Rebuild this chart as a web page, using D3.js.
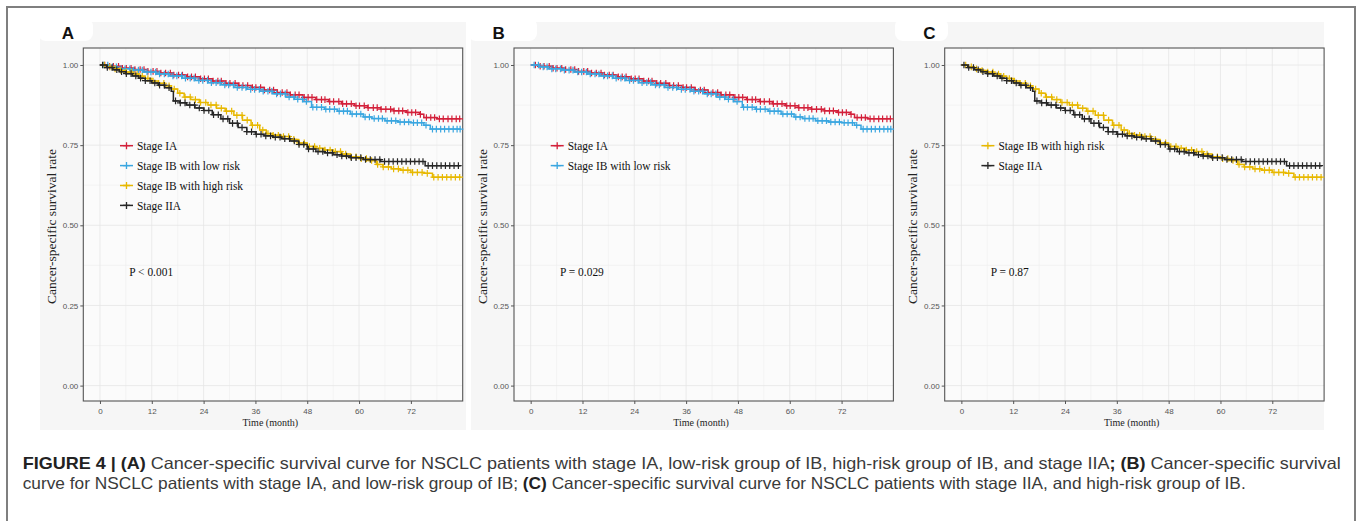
<!DOCTYPE html>
<html><head><meta charset="utf-8">
<script src="https://cdn.jsdelivr.net/npm/d3@7"></script>
<style>body{margin:0;background:#fff}svg{display:block}</style>
</head><body>
<svg id="c" width="1357" height="521"></svg>
<script>
// ---------- data ----------
const xTicks = [0, 12, 24, 36, 48, 60, 72];
const xMinor = [6, 18, 30, 42, 54, 66, 78];
const yTicks = [0, 0.25, 0.5, 0.75, 1];
const yMinor = [0.125, 0.375, 0.625, 0.875];
const yTickLabels = ["0.00", "0.25", "0.50", "0.75", "1.00"];

const seriesNames = ["Stage IA", "Stage IB with low risk", "Stage IB with high risk", "Stage IIA"];
const seriesColors = ["#D3203A", "#3AA6E0", "#E7B800", "#262626"];

const timeIA = [0,2,5,8,11,14,17,20,23,26,29,32,35,38,41,44,47,50,53,56,59,62,65,68,71,74,75,78];
const survIA = [1,0.996,0.990,0.986,0.980,0.975,0.969,0.963,0.957,0.950,0.943,0.936,0.930,0.922,0.914,0.907,0.899,0.892,0.886,0.879,0.873,0.867,0.862,0.857,0.852,0.846,0.836,0.832];
const censorIA = [1.1,2.2,3.1,4.3,5.2,6.1,7.2,8.1,9.3,10.2,11.1,12.3,13.2,14.1,15.2,16.3,17.1,18.2,19.1,20.3,21.2,22.1,23.3,24.2,25.1,26.2,27.3,28.1,29.2,30.1,31.3,32.2,33.1,34.2,35.3,36.1,37.2,38.1,39.3,40.2,41.1,42.2,43.3,44.1,45.2,46.1,47.3,48.2,49.1,50.2,51.3,52.1,53.2,54.1,55.3,56.2,57.1,58.2,59.3,60.1,61.2,62.1,63.3,64.2,65.1,66.2,67.3,68.1,69.2,70.1,71.3,72.2,73.1,74.2,75.6,76.6,77.5,78.6,79.5,80.6,81.5,82.5,83.3];

const timeIBL = [0,2,4,7,10,13,16,19,22,25,28,31,34,37,40,43,45,47,49,52,55,58,61,63,66,69,72,75,76.5];
const survIBL = [1,0.994,0.988,0.984,0.978,0.972,0.966,0.959,0.952,0.945,0.938,0.930,0.924,0.918,0.910,0.900,0.893,0.886,0.868,0.862,0.856,0.847,0.838,0.833,0.826,0.822,0.820,0.812,0.800];
const censorIBL = [0.8,1.8,2.9,3.8,4.9,5.8,6.9,7.8,8.9,9.8,10.9,11.8,12.9,13.8,14.9,15.8,16.9,17.8,18.9,19.8,20.9,21.8,22.9,23.8,24.9,25.8,26.9,27.8,28.9,29.8,30.9,31.8,32.9,33.8,34.9,35.8,36.9,37.8,38.9,39.8,40.9,41.8,42.9,43.8,44.9,45.8,46.9,47.8,49.3,50.2,51.3,52.3,53.2,54.3,55.4,56.4,57.3,58.4,59.4,60.4,61.4,62.4,63.5,64.5,65.4,66.5,67.5,68.5,69.5,70.5,71.5,72.6,73.5,74.5,75.5,77.0,77.9,78.9,79.8,80.8,81.8,82.7,83.4];

const timeIBH = [0,1.5,3,4.5,6,7.5,9,10.5,12,13.5,15,16.5,18,19.5,21,23,25,27,29,31,33,35,37,38.5,40,42,44,46,48,50,52,54,56,58,60,62,64,65.5,67.5,69.5,72,75,77];
const survIBH = [1,0.994,0.988,0.983,0.978,0.972,0.965,0.958,0.950,0.943,0.935,0.925,0.912,0.900,0.892,0.883,0.875,0.865,0.856,0.843,0.828,0.812,0.797,0.786,0.781,0.777,0.768,0.757,0.746,0.740,0.735,0.730,0.722,0.714,0.708,0.702,0.690,0.682,0.676,0.672,0.665,0.662,0.650];
const censorIBH = [1.0,2.3,3.5,4.8,6.1,7.3,8.6,9.8,11.1,12.3,13.6,14.8,16.0,17.2,18.5,19.7,20.9,22.1,23.3,24.5,25.7,26.9,28.1,29.3,30.5,31.7,32.9,34.1,35.3,36.5,37.7,38.9,40.1,41.3,42.5,43.7,44.9,46.1,47.3,48.5,49.7,50.9,52.1,53.3,54.5,55.7,56.9,58.1,59.3,60.5,61.7,62.9,64.3,65.6,66.8,68.0,69.1,70.2,71.3,72.4,73.5,74.6,75.8,77.3,78.3,79.3,80.3,81.3,82.3,83.3];

const timeIIA = [0,1.5,3,4.5,6,7.5,9,10.5,12,13.5,15,16.5,17,18.5,20,22,24,26,28,30,32,34,36,38,40,42,44,46,48,50,52,54,56,58,61,65,75.3];
const survIIA = [1,0.992,0.985,0.979,0.973,0.966,0.959,0.951,0.944,0.937,0.929,0.918,0.888,0.882,0.875,0.866,0.858,0.845,0.832,0.818,0.805,0.792,0.784,0.779,0.775,0.770,0.763,0.752,0.738,0.730,0.726,0.720,0.716,0.711,0.705,0.699,0.686];
const censorIIA = [0.6,1.7,2.8,3.9,5.0,6.1,7.2,8.3,9.4,10.5,11.6,12.7,13.8,14.9,16.0,17.5,18.6,19.7,20.8,21.9,23.0,24.1,25.2,26.3,27.4,28.5,29.6,30.7,31.8,32.9,34.0,35.1,36.2,37.3,38.4,39.5,40.6,41.7,42.8,43.9,45.0,46.1,47.2,48.3,49.4,50.5,51.6,52.7,53.8,54.9,56.0,57.1,58.2,59.3,60.4,61.5,62.6,63.7,64.8,65.9,66.9,67.9,68.9,69.9,70.9,71.9,72.9,73.9,74.8,76.0,77.0,78.0,79.0,80.0,81.0,82.0,83.0];

const panelLabels = ["A", "B", "C"];
const panelSeries = [[0, 1, 2, 3], [0, 1], [2, 3]];
const pValues = ["P < 0.001", "P = 0.029", "P = 0.87"];
const xTitle = "Time (month)";
const yTitle = "Cancer-specific survival rate";
const tEnd = 83.5;

const seriesData = [
  {time: timeIA, surv: survIA, censor: censorIA},
  {time: timeIBL, surv: survIBL, censor: censorIBL},
  {time: timeIBH, surv: survIBH, censor: censorIBH},
  {time: timeIIA, surv: survIIA, censor: censorIIA}
];

// ---------- drawing ----------
const svg = d3.select("#c");
const SERIF = "'Liberation Serif','Times New Roman',serif";
const SANS = "'Liberation Sans',Arial,Helvetica,sans-serif";

// outer frame
svg.append("rect").attr("x", 7).attr("y", 7).attr("width", 1348).attr("height", 540)
  .attr("fill", "none").attr("stroke", "#7f7f7f").attr("stroke-width", 2);

const step = 430.7;
const pL0 = 83.3, pT = 48, pW = 379.4, pH = 353;
const bgL = [40, 471, 897], bgR = [466, 897, 1324];
const blobL = [38, 468, 895], blobR = [93, 537, 948];

panelLabels.forEach((lab, i) => {
  const g = svg.append("g");
  const L = pL0 + i * step;
  // plot background
  g.append("rect").attr("x", bgL[i]).attr("y", 22).attr("width", bgR[i] - bgL[i]).attr("height", 408).attr("fill", "#f6f6f6");
  g.append("rect").attr("x", blobL[i]).attr("y", 18).attr("width", blobR[i] - blobL[i]).attr("height", 23).attr("rx", 8).attr("fill", "#fff");
  g.append("text").attr("x", L - 21.5).attr("y", 39).attr("font-family", SANS).attr("font-weight", "bold")
    .attr("font-size", 17).attr("fill", "#111").text(lab);

  const x = d3.scaleLinear().domain([-3.86, 84]).range([L, L + pW]);
  const y = d3.scaleLinear().domain([-0.048, 1.053]).range([pT + pH, pT]);

  g.append("rect").attr("x", L).attr("y", pT).attr("width", pW).attr("height", pH).attr("fill", "#fbfbfb");
  // grid
  g.selectAll(".xm").data(xMinor).join("line").attr("x1", d => x(d)).attr("x2", d => x(d))
    .attr("y1", pT).attr("y2", pT + pH).attr("stroke", "#eeeeee").attr("stroke-width", 0.6);
  g.selectAll(".ym").data(yMinor).join("line").attr("y1", d => y(d)).attr("y2", d => y(d))
    .attr("x1", L).attr("x2", L + pW).attr("stroke", "#eeeeee").attr("stroke-width", 0.6);
  g.selectAll(".xg").data(xTicks).join("line").attr("x1", d => x(d)).attr("x2", d => x(d))
    .attr("y1", pT).attr("y2", pT + pH).attr("stroke", "#e6e6e6").attr("stroke-width", 0.8);
  g.selectAll(".yg").data(yTicks).join("line").attr("y1", d => y(d)).attr("y2", d => y(d))
    .attr("x1", L).attr("x2", L + pW).attr("stroke", "#e6e6e6").attr("stroke-width", 0.8);

  // axes
  const xa = g.append("g").attr("transform", `translate(0,${pT + pH})`)
    .call(d3.axisBottom(x).tickValues(xTicks).tickSize(3).tickPadding(4));
  const ya = g.append("g").attr("transform", `translate(${L},0)`)
    .call(d3.axisLeft(y).tickValues(yTicks).tickFormat((d, k) => yTickLabels[k]).tickSize(3).tickPadding(2));
  [xa, ya].forEach(a => {
    a.select(".domain").remove();
    a.selectAll(".tick line").attr("stroke", "#555");
    a.selectAll(".tick text").attr("font-family", SANS).attr("font-size", 8).attr("fill", "#555");
  });
  // panel border
  g.append("rect").attr("x", L).attr("y", pT).attr("width", pW).attr("height", pH)
    .attr("fill", "none").attr("stroke", "#555").attr("stroke-width", 1.1);

  // titles
  g.append("text").attr("x", L + 187).attr("y", 426).attr("text-anchor", "middle")
    .attr("font-family", SERIF).attr("font-size", 10).attr("fill", "#222").text(xTitle);
  g.append("text").attr("transform", `translate(${L - 27.5},${pT + pH / 2 + 2}) rotate(-90)`)
    .attr("text-anchor", "middle").attr("font-family", SERIF).attr("font-size", 13.5).attr("fill", "#222").text(yTitle);

  // curves
  const line = d3.line().x(d => x(d[0])).y(d => y(d[1])).curve(d3.curveStepAfter);
  panelSeries[i].forEach(si => {
    const s = seriesData[si];
    const pts = s.time.map((t, k) => [t, s.surv[k]]);
    pts.push([tEnd, s.surv[s.surv.length - 1]]);
    g.append("path").attr("d", line(pts)).attr("fill", "none")
      .attr("stroke", seriesColors[si]).attr("stroke-width", 1.5);
    const sAt = t => s.surv[d3.bisectRight(s.time, t) - 1];
    g.append("path").attr("d", s.censor.map(t => {
      const cx = x(t), cy = y(sAt(t));
      return `M${cx - 3.3},${cy}h6.6M${cx},${cy - 3.3}v6.6`;
    }).join("")).attr("fill", "none").attr("stroke", seriesColors[si]).attr("stroke-width", 1.2);
  });

  // legend
  panelSeries[i].forEach((si, k) => {
    const ly = 145.7 + k * 19.9;
    const kx = L + 36.7;
    g.append("line").attr("x1", kx).attr("x2", kx + 13).attr("y1", ly).attr("y2", ly)
      .attr("stroke", seriesColors[si]).attr("stroke-width", 1.5);
    g.append("path").attr("d", `M${kx + 3},${ly}h7M${kx + 6.5},${ly - 3.5}v7`)
      .attr("stroke", seriesColors[si]).attr("stroke-width", 1.3);
    g.append("text").attr("transform", `translate(${kx + 17},${ly + 4.3}) scale(0.88,1)`)
      .attr("font-family", SERIF).attr("font-size", 13).attr("fill", "#111").text(seriesNames[si]);
  });
  g.append("text").attr("transform", `translate(${L + 46},${276}) scale(0.88,1)`)
    .attr("font-family", SERIF).attr("font-size", 13).attr("fill", "#111").text(pValues[i]);
});

// caption
const CAP = "'Liberation Sans Narrow','Arial Narrow','Liberation Sans',Arial,sans-serif";
const cap1 = [["FIGURE 4 | ", true], ["(A)", true], [" Cancer-specific survival curve for NSCLC patients with stage IA, low-risk group of IB, high-risk group of IB, and stage IIA", false], ["; (B)", true], [" Cancer-specific survival", false]];
const cap2 = [["curve for NSCLC patients with stage IA, and low-risk group of IB; ", false], ["(C)", true], [" Cancer-specific survival curve for NSCLC patients with stage IIA, and high-risk group of IB.", false]];
[[cap1, 469, 1318], [cap2, 488.5, 1223]].forEach(([parts, by, len]) => {
  const t = svg.append("text").attr("x", 22.7).attr("y", by).attr("font-family", CAP)
    .attr("font-size", 16.5).attr("fill", "#3a3a3a").attr("textLength", len).attr("lengthAdjust", "spacingAndGlyphs")
    .style("white-space", "pre");
  parts.forEach(([s, b]) => t.append("tspan").attr("font-weight", b ? "bold" : "normal").attr("fill", b ? "#222" : "#3a3a3a").text(s));
});
</script>
</body></html>
